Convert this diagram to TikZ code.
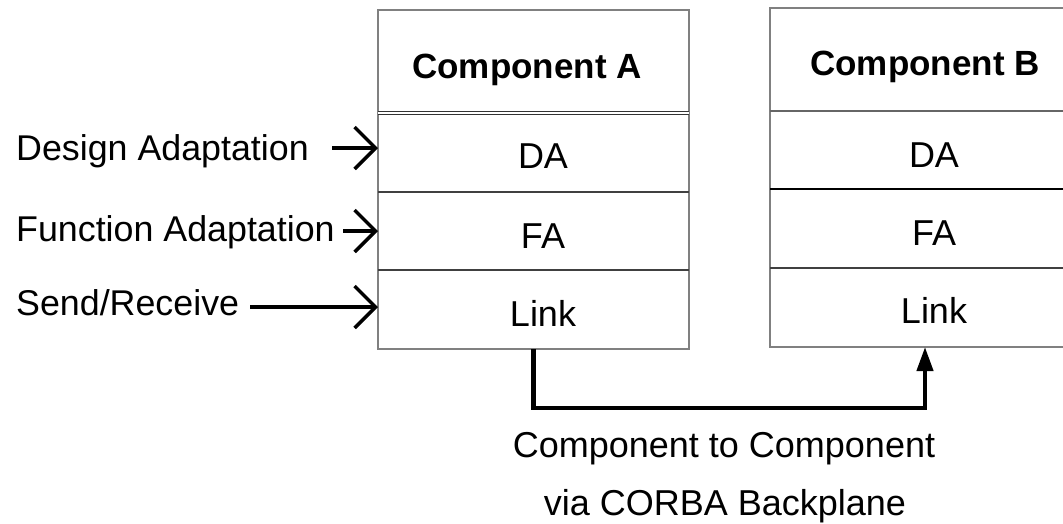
\documentclass[tikz,border=0pt]{standalone}
\usepackage{fontspec}
\setmainfont{Liberation Sans}
\usetikzlibrary{arrows.meta}
\begin{document}
\begin{tikzpicture}[x=1pt,y=-1pt,
  cell/.style={draw=black!50,line width=1.6pt,inner sep=0pt,outer sep=0pt,minimum width=311pt,anchor=north west},
  divider/.style={draw=black!75,line width=1.6pt},
  boxtext/.style={font=\fontsize{36}{42}\selectfont,anchor=base,inner sep=0pt},
  headtext/.style={font=\fontsize{35}{42}\selectfont\bfseries,anchor=base,inner sep=0pt},
  sidetext/.style={font=\fontsize{35.8}{42}\selectfont,anchor=base west,inner sep=0pt},
  captext/.style={font=\fontsize{36}{42}\selectfont,anchor=base,inner sep=0pt},
  inarrow/.style={line width=3.4pt,-{Straight Barb[length=21pt,width=42pt,line width=3.4pt]}},
  busarrow/.style={line width=4.2pt,-{Triangle[length=24pt,width=16pt]}}]
\useasboundingbox (0,0) rectangle (1063,523);
\fill[white] (0,0) rectangle (1063,523);
\begin{scope}
\clip (0,0) rectangle (1063,523);
% Component A cells
\node[cell,minimum height=103pt] (Ahead) at (378,10) {};
\node[cell,minimum height=79pt] (Ada) at (378,113) {};
\node[cell,minimum height=78pt] (Afa) at (378,192) {};
\node[cell,minimum height=79pt] (Alink) at (378,270) {};
% Component B cells
\node[cell,minimum width=310pt,minimum height=103pt] (Bhead) at (770,8) {};
\node[cell,minimum width=310pt,minimum height=78pt] (Bda) at (770,111) {};
\node[cell,minimum width=310pt,minimum height=79pt] (Bfa) at (770,189) {};
\node[cell,minimum width=310pt,minimum height=79pt] (Blink) at (770,268) {};
% dividers
\draw[draw=black!80,line width=0.9pt,double=white,double distance=1.4pt] (Ahead.south west) -- (Ahead.south east);
\draw[divider] (Ada.south west) -- (Ada.south east);
\draw[divider] (Afa.south west) -- (Afa.south east);
\draw[draw=black!60,line width=2pt] (Bhead.south west) -- (Bhead.south east);
\draw[draw=black,line width=1.6pt] (Bda.south west) -- (Bda.south east);
\draw[divider] (Bfa.south west) -- (Bfa.south east);
\end{scope}
% texts in boxes
\node[headtext] (tA) at (527,78) {Component A};
\node[boxtext] (tAda) at (543,168) {DA};
\node[boxtext] (tAfa) at (543,248) {FA};
\node[boxtext] (tAlink) at (543,326) {Link};
\node[headtext] (tB) at (925,75) {Component B};
\node[boxtext] (tBda) at (934,167) {DA};
\node[boxtext] (tBfa) at (934,245) {FA};
\node[boxtext] (tBlink) at (934,323) {Link};
% side labels
\node[sidetext] (lda) at (16,160) {Design Adaptation};
\node[sidetext] (lfa) at (16,241) {Function Adaptation};
\node[sidetext] (lsr) at (16,315) {Send/Receive};
\coordinate (sda) at (332,148);
\coordinate (sfa) at (343,231);
\coordinate (ssr) at (250,307);
\draw[inarrow] (sda) -- (sda -| Ada.west);
\draw[inarrow] (sfa) -- (sfa -| Afa.west);
\draw[inarrow] (ssr) -- (ssr -| Alink.west);
% bus connector
\coordinate (bend) at (0,408);
\draw[busarrow] (Alink.south) -- (Alink.south |- bend) -- (Blink.south |- bend) -- (Blink.south);
% caption
\node[captext] (c1) at (724,457) {Component to Component};
\node[captext] (c2) at (725,515) {via CORBA Backplane};
\end{tikzpicture}
\end{document}
